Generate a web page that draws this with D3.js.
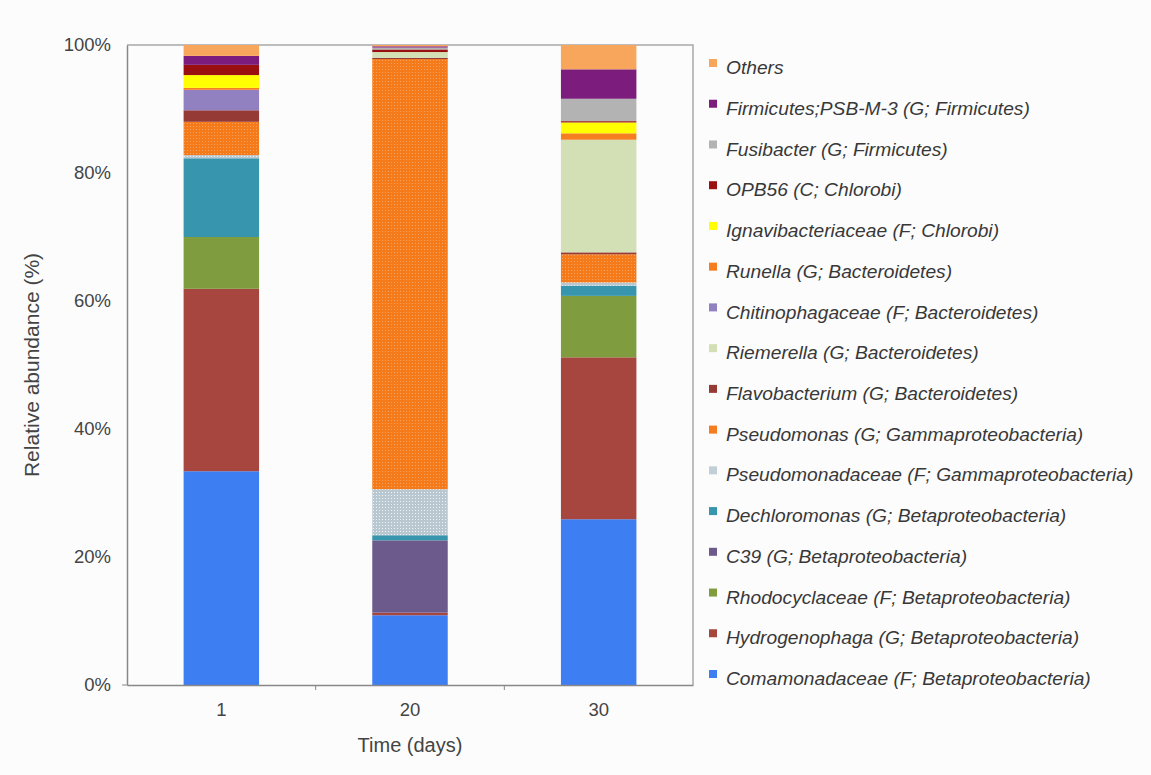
<!DOCTYPE html>
<html>
<head>
<meta charset="utf-8">
<script src="https://cdn.jsdelivr.net/npm/d3@7"></script>
<style>
  body { margin: 0; background: #fcfcfc; }
  svg { font-family: "Liberation Sans", Arial, sans-serif; }
  .tick text { fill: #444; font-size: 18.5px; }
  .legend text { fill: #383838; font-size: 19.2px; font-style: italic; }
</style>
</head>
<body>
<div id="vis-container"></div>
<script>
// sampling days (x categories)
var days = ["1", "20", "30"];

// taxa, stacked bottom -> top
var taxa = [
    "Comamonadaceae (F; Betaproteobacteria)",
    "Hydrogenophaga (G; Betaproteobacteria)",
    "Rhodocyclaceae (F; Betaproteobacteria)",
    "C39 (G; Betaproteobacteria)",
    "Dechloromonas (G; Betaproteobacteria)",
    "Pseudomonadaceae (F; Gammaproteobacteria)",
    "Pseudomonas (G; Gammaproteobacteria)",
    "Flavobacterium (G; Bacteroidetes)",
    "Riemerella (G; Bacteroidetes)",
    "Chitinophagaceae (F; Bacteroidetes)",
    "Runella (G; Bacteroidetes)",
    "Ignavibacteriaceae (F; Chlorobi)",
    "OPB56 (C; Chlorobi)",
    "Fusibacter (G; Firmicutes)",
    "Firmicutes;PSB-M-3 (G; Firmicutes)",
    "Others"
];

var colors = ["#3d7ff3", "#a7463e", "#7f9d3e", "#6c5a8c", "#3795ad", "url(#pat-pmdc)",
    "url(#pat-pm)", "#963a36", "#d3e0b5", "#9181c0", "#f57f20", "#ffff00",
    "#9a0f0f", "#b3b3b3", "#7c1c7c", "#f8a65c"];
var legendColors = ["#3d7ff3", "#a7463e", "#7f9d3e", "#6c5a8c", "#3795ad", "#c3cfd6",
    "#f57d1f", "#963a36", "#d3e0b5", "#9181c0", "#f57f20", "#ffff00",
    "#9a0f0f", "#b3b3b3", "#7c1c7c", "#f8a65c"];

// relative abundance (%) per taxon, same order as taxa
var day1 = [33.4, 28.5, 8.1, 0, 12.3, 0.5, 5.2, 1.8, 0, 3.2, 0.3, 2.0, 1.6, 0, 1.4, 1.7];
var day20 = [10.9, 0.4, 0, 11.3, 0.8, 7.2, 67.2, 0.2, 0.9, 0, 0, 0, 0.4, 0.3, 0.2, 0.2];
var day30 = [25.9, 25.3, 9.6, 0, 1.6, 0.5, 4.4, 0.3, 17.6, 0, 1.0, 1.7, 0.2, 3.5, 4.6, 3.8];

var yTicks = [0, 20, 40, 60, 80, 100];

var width = 1151, height = 775;
var margins = { top: 45, right: 458, bottom: 90, left: 127 };
var visWidth = width - margins.left - margins.right;
var visHeight = height - margins.top - margins.bottom;

var svg = d3.select("#vis-container").append("svg")
    .attr("width", width).attr("height", height);

// dotted fills for the two Pseudomonas groups
var defs = svg.append("defs");
var pm = defs.append("pattern").attr("id", "pat-pm").attr("patternUnits", "userSpaceOnUse")
    .attr("width", 3).attr("height", 3);
pm.append("rect").attr("width", 3).attr("height", 3).attr("fill", "#f47a1a");
pm.append("rect").attr("width", 1).attr("height", 1).attr("fill", "#f9a25e");
var pmdc = defs.append("pattern").attr("id", "pat-pmdc").attr("patternUnits", "userSpaceOnUse")
    .attr("width", 3).attr("height", 3);
pmdc.append("rect").attr("width", 3).attr("height", 3).attr("fill", "#b9c8d0");
pmdc.append("rect").attr("width", 1).attr("height", 1).attr("fill", "#eef2f4");

var viewport = svg.append("g")
    .attr("transform", "translate(" + margins.left + "," + margins.top + ")");

var table = days.map((d, i) => {
    var row = { day: d };
    var vals = [day1, day20, day30][i];
    taxa.forEach((t, j) => row[t] = vals[j]);
    return row;
});

var series = d3.stack().keys(taxa)(table);

var xScale = d3.scaleBand().domain(days).range([0, visWidth])
    .paddingInner(0.6).paddingOuter(0.3);
var yScale = d3.scaleLinear().domain([0, 100]).range([visHeight, 0]);

// frame (top + right)
viewport.append("path")
    .attr("d", "M0,0H" + visWidth + "V" + visHeight)
    .attr("fill", "none").attr("stroke", "#a8a8a8").attr("stroke-width", 1.5);

viewport.append("g").selectAll("g")
    .data(series).enter().append("g")
    .attr("fill", (d, i) => colors[i])
    .selectAll("rect")
    .data(d => d).enter().append("rect")
    .attr("x", d => xScale(d.data.day))
    .attr("width", xScale.bandwidth())
    .attr("y", d => yScale(d[1]))
    .attr("height", d => yScale(d[0]) - yScale(d[1]));

// y axis
var yAxis = viewport.append("g")
    .call(d3.axisLeft(yScale).tickValues(yTicks).tickFormat(d => d + "%")
        .tickSize(0).tickPadding(16));
yAxis.select(".domain").attr("stroke", "#888").attr("stroke-width", 1.5);
viewport.append("line").attr("x1", -5).attr("x2", 0)
    .attr("y1", yScale(0)).attr("y2", yScale(0)).attr("stroke", "#888");

// x axis: labels centered, ticks between categories
var xAxis = viewport.append("g")
    .attr("transform", "translate(0," + visHeight + ")")
    .call(d3.axisBottom(xScale).tickSize(0).tickPadding(18));
xAxis.select(".domain").attr("stroke", "#888").attr("stroke-width", 1.5);
var bounds = d3.scaleLinear().domain([0, days.length]).range([0, visWidth]);
viewport.append("g")
    .attr("transform", "translate(0," + visHeight + ")")
    .selectAll("line").data([1, 2]).enter().append("line")
    .attr("x1", d => bounds(d)).attr("x2", d => bounds(d))
    .attr("y1", 0).attr("y2", 5).attr("stroke", "#888");

// axis titles
viewport.append("text")
    .attr("transform", "translate(-88," + (visHeight / 2) + ") rotate(-90)")
    .attr("text-anchor", "middle").attr("fill", "#444").style("font-size", "21px")
    .text("Relative abundance (%)");
viewport.append("text")
    .attr("x", visWidth / 2).attr("y", visHeight + 67)
    .attr("text-anchor", "middle").attr("fill", "#444").style("font-size", "20px")
    .text("Time (days)");

// legend, top item = last stacked series
var legendOrder = taxa.map((t, i) => i).reverse();
var legendY = d3.scalePoint().domain(legendOrder).range([68, 679]);
var legend = svg.append("g").attr("class", "legend");
var items = legend.selectAll("g").data(legendOrder).enter().append("g")
    .attr("transform", d => "translate(709," + legendY(d) + ")");
items.append("rect")
    .attr("x", 0).attr("y", -9).attr("width", 8).attr("height", 8)
    .attr("fill", d => legendColors[d]);
items.append("text")
    .attr("x", 17).attr("y", 0).attr("dy", "0.32em")
    .text(d => taxa[d]);
</script>
</body>
</html>
